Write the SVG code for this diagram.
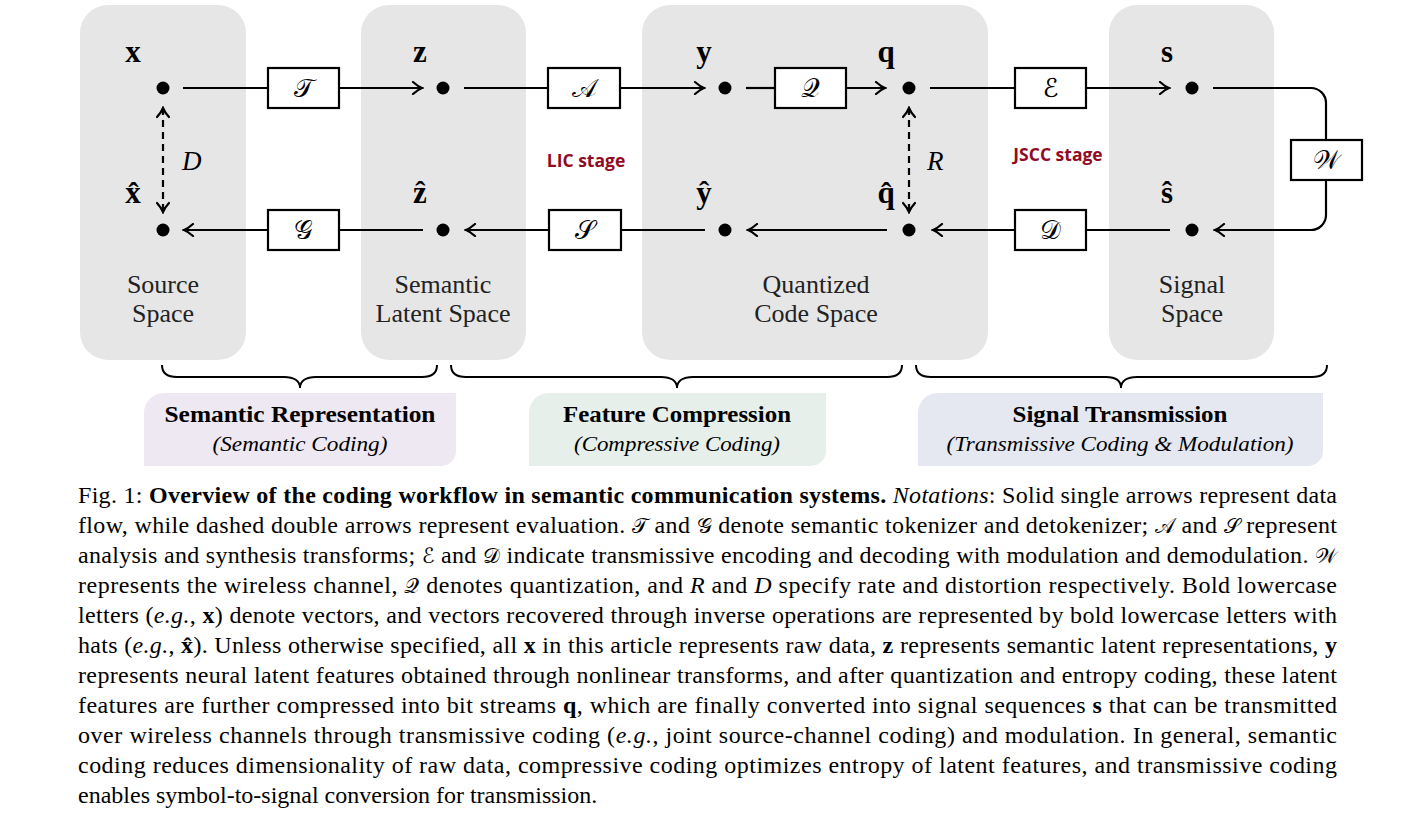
<svg xmlns="http://www.w3.org/2000/svg" width="1423" height="818" viewBox="0 0 1423 818">
<style>
.panel{fill:#e6e6e6}
.ln{fill:none;stroke:#000;stroke-width:2.2}
.arr{marker-end:url(#ah)}
.dash{fill:none;stroke:#000;stroke-width:2.2;stroke-dasharray:7 5;marker-start:url(#ah);marker-end:url(#ah)}
.box{fill:#fff;stroke:#000;stroke-width:2.2}
.dot{fill:#000}
.vec{font-family:"Liberation Serif",serif;font-weight:bold;font-size:31px;text-anchor:middle}
.cal{font-family:"DejaVu Serif","DejaVu Sans","Liberation Serif",serif;font-size:26px;text-anchor:middle}
.it{font-family:"Liberation Serif",serif;font-style:italic;font-size:27px}
.sp{font-family:"Liberation Serif",serif;font-size:26px;text-anchor:middle;fill:#222}
.stage{font-family:"Open Sans","Noto Sans",sans-serif;font-weight:bold;font-size:17.5px;fill:#8f0c24;text-anchor:middle}
.brace{fill:none;stroke:#000;stroke-width:2}
.bt{font-family:"Liberation Serif",serif;font-weight:bold;font-size:24px;text-anchor:middle}
.bi{font-family:"Liberation Serif",serif;font-style:italic;font-size:22px;text-anchor:middle}
.cap{font-family:"Liberation Serif",serif;font-size:24px}
.b{font-weight:bold}
.i{font-style:italic}
.c{font-family:"DejaVu Serif","DejaVu Sans","Liberation Serif",serif;font-size:21px}
</style>
<defs>
<marker id="ah" viewBox="-11 -7 13 14" refX="0" refY="0" markerWidth="13" markerHeight="14" markerUnits="userSpaceOnUse" orient="auto-start-reverse">
<path d="M-9,-6 Q-4,-1.5 0,0 Q-4,1.5 -9,6" fill="none" stroke="#000" stroke-width="2.2" stroke-linecap="round"/>
</marker>
</defs>

<g id="panel-source"><rect class="panel" x="80" y="5" width="166" height="355" rx="28"/>
<text class="sp" x="163" y="293">Source</text><text class="sp" x="163" y="322">Space</text></g>
<g id="panel-latent"><rect class="panel" x="361" y="5" width="165" height="355" rx="28"/>
<text class="sp" x="443" y="293">Semantic</text><text class="sp" x="443" y="322">Latent Space</text></g>
<g id="panel-code"><rect class="panel" x="642" y="5" width="346" height="355" rx="28"/>
<text class="sp" x="816" y="293">Quantized</text><text class="sp" x="816" y="322">Code Space</text></g>
<g id="panel-signal"><rect class="panel" x="1109" y="5" width="165" height="355" rx="28"/>
<text class="sp" x="1192" y="293">Signal</text><text class="sp" x="1192" y="322">Space</text></g>

<g id="connectors">
<path class="ln" d="M183,88 H268"/><path class="ln arr" d="M339,88 H422"/>
<path class="ln" d="M464,88 H548"/><path class="ln arr" d="M620,88 H704"/>
<path class="ln" d="M746,88 H775"/><path class="ln arr" d="M846,88 H885"/>
<path class="ln" d="M930,88 H1015"/><path class="ln arr" d="M1086,88 H1169"/>
<path class="ln" d="M1213,88 H1311 A15,15 0 0 1 1326,103 V140"/>
<path class="ln arr" d="M1326,180 V215 A15,15 0 0 1 1311,230 H1215"/>
<path class="ln" d="M1170,230 H1086"/><path class="ln arr" d="M1015,230 H933"/>
<path class="ln arr" d="M887,230 H748"/>
<path class="ln" d="M705,230 H621"/><path class="ln arr" d="M549,230 H466"/>
<path class="ln" d="M423,230 H339"/><path class="ln arr" d="M268,230 H184"/>
<path class="dash" d="M163,108 V212"/>
<path class="dash" d="M909,108 V212"/>
</g>

<g id="node-x"><circle class="dot" cx="163" cy="88" r="6.5"/><text class="vec" x="133" y="62">x</text></g>
<g id="node-xhat"><circle class="dot" cx="163" cy="230" r="6.5"/><text class="vec" x="133" y="203">x̂</text></g>
<g id="node-z"><circle class="dot" cx="443" cy="88" r="6.5"/><text class="vec" x="420" y="62">z</text></g>
<g id="node-zhat"><circle class="dot" cx="443" cy="230" r="6.5"/><text class="vec" x="420" y="203">ẑ</text></g>
<g id="node-y"><circle class="dot" cx="725" cy="88" r="6.5"/><text class="vec" x="704" y="62">y</text></g>
<g id="node-yhat"><circle class="dot" cx="725" cy="230" r="6.5"/><text class="vec" x="704" y="203">ŷ</text></g>
<g id="node-q"><circle class="dot" cx="909" cy="88" r="6.5"/><text class="vec" x="886" y="62">q</text></g>
<g id="node-qhat"><circle class="dot" cx="909" cy="230" r="6.5"/><text class="vec" x="886" y="203">q̂</text></g>
<g id="node-s"><circle class="dot" cx="1192" cy="88" r="6.5"/><text class="vec" x="1167" y="62">s</text></g>
<g id="node-shat"><circle class="dot" cx="1192" cy="230" r="6.5"/><text class="vec" x="1167" y="203">ŝ</text></g>

<g id="op-T"><rect class="box" x="268" y="68" width="71" height="40"/><text class="cal" x="303.5" y="97">𝒯</text></g>
<g id="op-A"><rect class="box" x="548" y="68" width="72" height="40"/><text class="cal" x="584" y="97">𝒜</text></g>
<g id="op-Q"><rect class="box" x="775" y="68" width="71" height="40"/><text class="cal" x="810.5" y="97">𝒬</text></g>
<g id="op-E"><rect class="box" x="1015" y="68" width="71" height="40"/><text class="cal" x="1050.5" y="97">ℰ</text></g>
<g id="op-W"><rect class="box" x="1291" y="140" width="71" height="40"/><text class="cal" x="1326.5" y="169">𝒲</text></g>
<g id="op-D"><rect class="box" x="1015" y="210" width="71" height="40"/><text class="cal" x="1050.5" y="239">𝒟</text></g>
<g id="op-S"><rect class="box" x="549" y="210" width="72" height="40"/><text class="cal" x="585" y="239">𝒮</text></g>
<g id="op-G"><rect class="box" x="268" y="210" width="71" height="40"/><text class="cal" x="303.5" y="239">𝒢</text></g>

<g id="label-D"><text class="it" x="182" y="170">D</text></g>
<g id="label-R"><text class="it" x="927" y="170">R</text></g>
<g id="label-LIC"><text class="stage" x="586" y="167">LIC stage</text></g>
<g id="label-JSCC"><text class="stage" x="1058" y="161">JSCC stage</text></g>

<g id="braces">
<path class="brace" d="M162,365 C162,373 167,377 177,377 H284 C294,377 300,381 300,388 C300,381 306,377 316,377 H422 C432,377 437,373 437,365"/>
<path class="brace" d="M451,365 C451,373 456,377 466,377 H661 C671,377 677,381 677,388 C677,381 683,377 693,377 H887 C897,377 902,373 902,365"/>
<path class="brace" d="M916,365 C916,373 921,377 931,377 H1106 C1116,377 1121,381 1121,388 C1121,381 1127,377 1137,377 H1312 C1322,377 1327,373 1327,365"/>
</g>

<g id="group-semantic">
<path d="M144,413 A20,20 0 0 1 164,393 H456 V451 A15,15 0 0 1 441,466 H144 Z" fill="#ede8f2"/>
<text class="bt" x="300" y="422" textLength="271" lengthAdjust="spacingAndGlyphs">Semantic Representation</text>
<text class="bi" x="300" y="451" textLength="175" lengthAdjust="spacingAndGlyphs">(Semantic Coding)</text>
</g>
<g id="group-feature">
<path d="M529,413 A20,20 0 0 1 549,393 H826 V451 A15,15 0 0 1 811,466 H529 Z" fill="#e6efe9"/>
<text class="bt" x="677" y="422" textLength="228" lengthAdjust="spacingAndGlyphs">Feature Compression</text>
<text class="bi" x="677" y="451" textLength="206" lengthAdjust="spacingAndGlyphs">(Compressive Coding)</text>
</g>
<g id="group-signal">
<path d="M918,413 A20,20 0 0 1 938,393 H1323 V451 A15,15 0 0 1 1308,466 H918 Z" fill="#e5e8f1"/>
<text class="bt" x="1120" y="422" textLength="215" lengthAdjust="spacingAndGlyphs">Signal Transmission</text>
<text class="bi" x="1120" y="451" textLength="347" lengthAdjust="spacingAndGlyphs">(Transmissive Coding &amp; Modulation)</text>
</g>

<g id="caption" class="cap">
<text x="78" y="503" textLength="1259" lengthAdjust="spacing">Fig. 1: <tspan class="b">Overview of the coding workflow in semantic communication systems.</tspan> <tspan class="i">Notations</tspan>: Solid single arrows represent data</text>
<text x="78" y="533" textLength="1259" lengthAdjust="spacing">flow, while dashed double arrows represent evaluation. <tspan class="c">𝒯</tspan> and <tspan class="c">𝒢</tspan> denote semantic tokenizer and detokenizer; <tspan class="c">𝒜</tspan> and <tspan class="c">𝒮</tspan> represent</text>
<text x="78" y="563" textLength="1259" lengthAdjust="spacing">analysis and synthesis transforms; <tspan class="c">ℰ</tspan> and <tspan class="c">𝒟</tspan> indicate transmissive encoding and decoding with modulation and demodulation. <tspan class="c">𝒲</tspan></text>
<text x="78" y="593" textLength="1259" lengthAdjust="spacing">represents the wireless channel, <tspan class="c">𝒬</tspan> denotes quantization, and <tspan class="i">R</tspan> and <tspan class="i">D</tspan> specify rate and distortion respectively. Bold lowercase</text>
<text x="78" y="623" textLength="1259" lengthAdjust="spacing">letters (<tspan class="i">e.g.</tspan>, <tspan class="b">x</tspan>) denote vectors, and vectors recovered through inverse operations are represented by bold lowercase letters with</text>
<text x="78" y="653" textLength="1259" lengthAdjust="spacing">hats (<tspan class="i">e.g.</tspan>, <tspan class="b">x̂</tspan>). Unless otherwise specified, all <tspan class="b">x</tspan> in this article represents raw data, <tspan class="b">z</tspan> represents semantic latent representations, <tspan class="b">y</tspan></text>
<text x="78" y="683" textLength="1259" lengthAdjust="spacing">represents neural latent features obtained through nonlinear transforms, and after quantization and entropy coding, these latent</text>
<text x="78" y="713" textLength="1259" lengthAdjust="spacing">features are further compressed into bit streams <tspan class="b">q</tspan>, which are finally converted into signal sequences <tspan class="b">s</tspan> that can be transmitted</text>
<text x="78" y="743" textLength="1259" lengthAdjust="spacing">over wireless channels through transmissive coding (<tspan class="i">e.g.</tspan>, joint source-channel coding) and modulation. In general, semantic</text>
<text x="78" y="773" textLength="1259" lengthAdjust="spacing">coding reduces dimensionality of raw data, compressive coding optimizes entropy of latent features, and transmissive coding</text>
<text x="78" y="803">enables symbol-to-signal conversion for transmission.</text>
</g>
</svg>
